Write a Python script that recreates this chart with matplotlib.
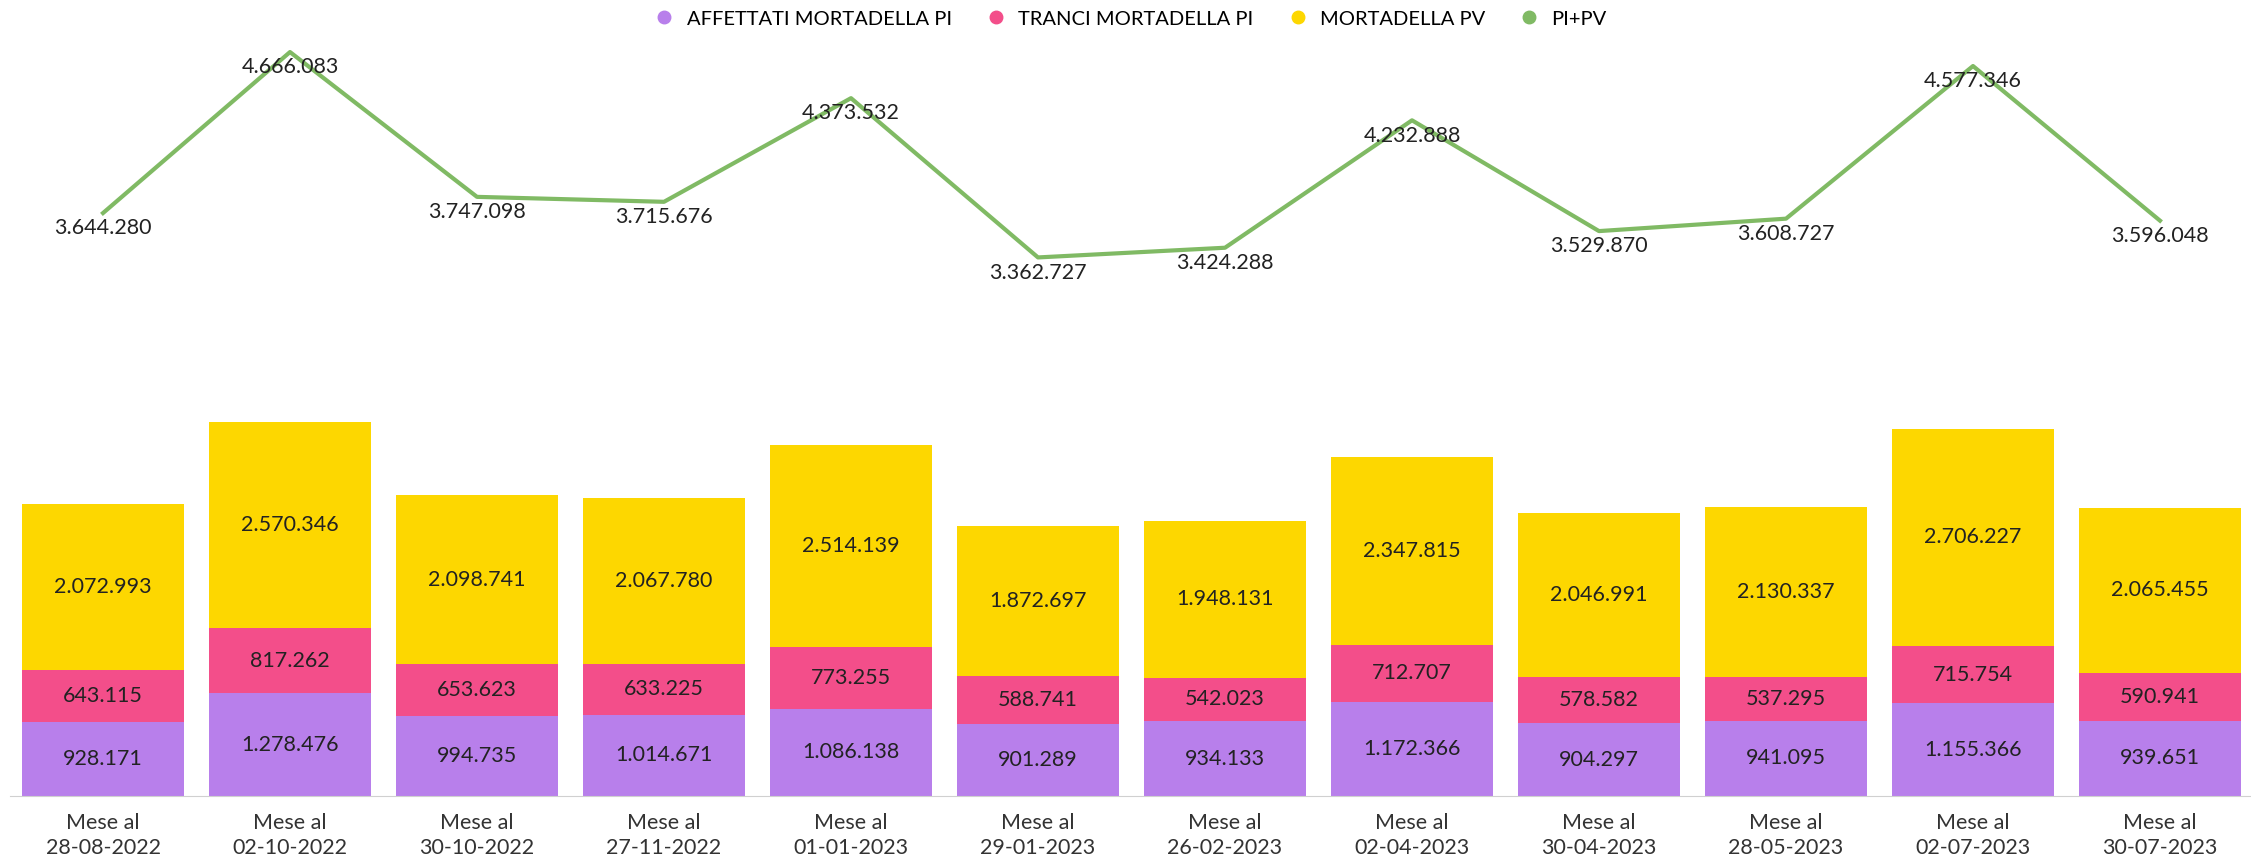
import matplotlib.pyplot as plt
from matplotlib.lines import Line2D
import numpy as np

plt.rcParams['font.family'] = ['Lato', 'DejaVu Sans']

mesi = ['28-08-2022', '02-10-2022', '30-10-2022', '27-11-2022', '01-01-2023', '29-01-2023',
        '26-02-2023', '02-04-2023', '30-04-2023', '28-05-2023', '02-07-2023', '30-07-2023']
affettati = [928171, 1278476, 994735, 1014671, 1086138, 901289, 934133, 1172366, 904297, 941095, 1155366, 939651]
tranci = [643115, 817262, 653623, 633225, 773255, 588741, 542023, 712707, 578582, 537295, 715754, 590941]
mortadella_pv = [2072993, 2570346, 2098741, 2067780, 2514139, 1872697, 1948131, 2347815, 2046991, 2130337, 2706227, 2065455]
pi_pv = [3644280, 4666083, 3747098, 3715676, 4373532, 3362727, 3424288, 4232888, 3529870, 3608727, 4577346, 3596048]

c_aff = '#B87FEB'
c_tra = '#F34E8A'
c_pv = '#FDD700'
c_tot = '#80BA64'

def fmt(v):
    return f"{v:,}".replace(',', '.')

fig = plt.figure(figsize=(22.51, 8.66), dpi=100)
ax = fig.add_axes([9.5 / 2251, 70 / 866, 2244 / 2251, 766 / 866])
x = np.arange(len(mesi))
w = 0.866

b1 = ax.bar(x, affettati, w, color=c_aff)
b2 = ax.bar(x, tranci, w, bottom=affettati, color=c_tra)
bott = np.array(affettati) + np.array(tranci)
b3 = ax.bar(x, mortadella_pv, w, bottom=bott, color=c_pv)

for bars, vals in [(b1, affettati), (b2, tranci), (b3, mortadella_pv)]:
    for r, v in zip(bars, vals):
        ax.text(r.get_x() + r.get_width() / 2, r.get_y() + r.get_height() / 2, fmt(v),
                ha='center', va='center', fontsize=15.5, color='#222222')

ax.set_xlim(-0.5, 11.5)
ax.set_ylim(0, 9.551e6)
ax.set_xticks(x)
ax.set_xticklabels(['Mese al\n' + m for m in mesi], fontsize=15.5, color='#333333', linespacing=1.35)
ax.tick_params(axis='x', length=0, pad=12)
ax.set_yticks([])
for s in ['top', 'right', 'left']:
    ax.spines[s].set_visible(False)
ax.spines['bottom'].set_color('#d0d0d0')

ax2 = ax.twinx()
ax2.plot(x, pi_pv, color=c_tot, lw=3)
for xi, v in zip(x, pi_pv):
    ax2.annotate(fmt(v), (xi, v), xytext=(0, -11), textcoords='offset points',
                 ha='center', va='center', fontsize=15.5, color='#222222')
ax2.set_ylim(-0.055e6, 4.806e6)
ax2.set_yticks([])
for s in ax2.spines.values():
    s.set_visible(False)

handles = [Line2D([], [], ls='', marker='o', markersize=9, color=c) for c in [c_aff, c_tra, c_pv, c_tot]]
fig.legend(handles, ['AFFETTATI MORTADELLA PI', 'TRANCI MORTADELLA PI', 'MORTADELLA PV', 'PI+PV'],
           loc='center', bbox_to_anchor=(0.5, 1 - 19 / 866), ncol=4, frameon=False, fontsize=14.5,
           handletextpad=0.1, columnspacing=1.2)

fig.savefig('out.png', dpi=100)
